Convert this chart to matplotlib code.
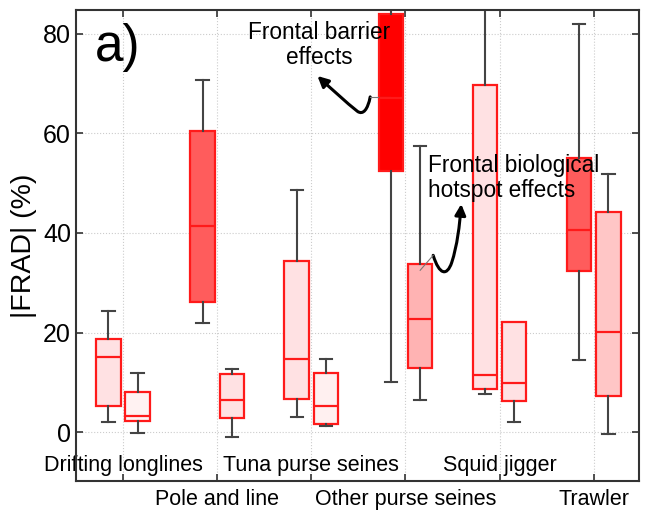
import numpy as np
import matplotlib.pyplot as plt
from matplotlib.path import Path
from matplotlib.patches import FancyArrowPatch

plt.rcParams['font.family'] = ['Liberation Sans', 'DejaVu Sans']

# categories (tick labels), alternating rows
categories = ["Drifting longlines", "Pole and line", "Tuna purse seines",
              "Other purse seines", "Squid jigger", "Trawler"]

# box statistics for each category: (first box, second box)
whislo = [(2.1, -0.1), (21.9, -0.9), (3.0, 1.3), (10.1, 6.5), (7.6, 2.0), (14.5, -0.4)]
q1 = [(5.2, 2.3), (26.2, 2.75), (6.6, 1.7), (52.5, 12.8), (8.6, 6.3), (32.4, 7.2)]
med = [(15.0, 3.3), (41.4, 6.4), (14.6, 5.2), (67.0, 22.8), (11.4, 9.8), (40.6, 20.2)]
q3 = [(18.7, 8.0), (60.4, 11.6), (34.4, 11.8), (84.0, 33.7), (69.7, 22.1), (55.0, 44.2)]
whishi = [(24.3, 11.9), (70.6, 12.7), (48.6, 14.6), (90.0, 57.5), (90.0, 22.1), (81.9, 51.9)]
fills = [("#ffe1e3", "#fff2f2"), ("#ff5c5c", "#ffe1e3"), ("#ffe1e3", "#fff0f0"),
         ("#ff0000", "#ffb3b3"), ("#ffe1e3", "#ffe1e3"), ("#ff5c5c", "#ffc6c6")]

fig = plt.figure(figsize=(6.49, 5.11), dpi=100)
ax = fig.add_axes([0.117, 0.0587, 0.8676, 0.9213])

stats, pos, cols = [], [], []
for i in range(len(categories)):
    for j, off in enumerate((-0.155, 0.155)):
        stats.append(dict(whislo=whislo[i][j], q1=q1[i][j], med=med[i][j],
                          q3=q3[i][j], whishi=whishi[i][j], fliers=[]))
        pos.append(i + 1 + off)
        cols.append(fills[i][j])

bp = ax.bxp(stats, positions=pos, widths=0.26, patch_artist=True,
            showfliers=False,
            boxprops=dict(edgecolor="#ff1a1a", linewidth=1.6),
            medianprops=dict(color="#ff1a1a", linewidth=1.6),
            whiskerprops=dict(color="#444444", linewidth=1.5),
            capprops=dict(color="#444444", linewidth=1.5),
            capwidths=0.13)
for box, c in zip(bp['boxes'], cols):
    box.set_facecolor(c)
# no upper cap where the whisker equals the box top
for k, s in enumerate(stats):
    if s['whishi'] <= s['q3']:
        bp['caps'][2 * k + 1].set_visible(False)

ax.set_xlim(0.5, 6.48)
ax.set_ylim(-9.8, 84.7)
ax.set_yticks([0, 20, 40, 60, 80])
ax.set_xticks([2, 4, 6], [categories[1], categories[3], categories[5]])
ax.set_xticks([1, 3, 5], [categories[0], categories[2], categories[4]], minor=True)
ax.tick_params(axis='both', which='both', direction='in', top=True, right=True,
               length=5, width=1.2, color="#333333", labelsize=18)
ax.tick_params(axis='x', which='major', labelsize=15.5, pad=6)
ax.tick_params(axis='x', which='minor', labelsize=15.5, pad=-18.5)
ax.grid(True, which='both', linestyle=':', color="#cccccc", linewidth=0.8)
ax.set_axisbelow(True)
for sp in ax.spines.values():
    sp.set_color("#333333")
    sp.set_linewidth(1.5)
ax.set_ylabel("|FRAD| (%)", fontsize=20.5)
ax.yaxis.set_label_coords(-0.069, 0.5)

ax.text(0.70, 77.3, "a)", fontsize=37, ha='left', va='center')

# annotations
ax.text(3.083, 77.7, "Frontal barrier\neffects", fontsize=16.3, ha='center',
        va='center', linespacing=1.15)
ax.text(4.241, 51.0, "Frontal biological\nhotspot effects", fontsize=16.3,
        ha='left', va='center', linespacing=1.15)

ax.plot([3.84, 3.625], [67.3, 67.3], color="#777777", lw=0.8)
p1 = Path([(3.625, 67.3), (3.60, 64.8), (3.55, 63.6), (3.49, 64.4),
           (3.37, 66.2), (3.22, 68.8), (3.065, 71.5)],
          [Path.MOVETO, Path.CURVE4, Path.CURVE4, Path.CURVE4,
           Path.CURVE4, Path.CURVE4, Path.CURVE4])
ax.add_patch(FancyArrowPatch(path=p1, arrowstyle='-|>', mutation_scale=16,
                             lw=2.2, color='black'))

ax.plot([4.156, 4.294], [32.5, 35.5], color="#777777", lw=0.8)
p2 = Path([(4.294, 35.5), (4.36, 31.5), (4.44, 31.3), (4.49, 34.0),
           (4.55, 37.5), (4.575, 41.5), (4.592, 45.8)],
          [Path.MOVETO, Path.CURVE4, Path.CURVE4, Path.CURVE4,
           Path.CURVE4, Path.CURVE4, Path.CURVE4])
ax.add_patch(FancyArrowPatch(path=p2, arrowstyle='-|>', mutation_scale=16,
                             lw=2.2, color='black'))

fig.savefig("out.png", dpi=100)
